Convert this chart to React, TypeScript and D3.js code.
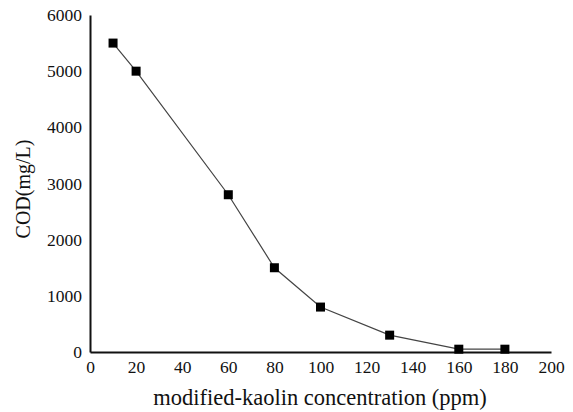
import { useEffect, useRef } from 'react';
import * as d3 from 'd3';

const dosage = [10, 20, 60, 80, 100, 130, 160, 180];
const cod = [5500, 5000, 2800, 1500, 800, 300, 50, 50];
const xTicks = [0, 20, 40, 60, 80, 100, 120, 140, 160, 180, 200];
const yTicks = [0, 1000, 2000, 3000, 4000, 5000, 6000];
const xTitle = 'modified-kaolin concentration (ppm)';
const yTitle = 'COD(mg/L)';

export default function App() {
    const ref = useRef<SVGSVGElement>(null);

    useEffect(() => {
        const svg = d3.select(ref.current);
        svg.selectAll('*').remove();

        const font = '"Liberation Serif", "Times New Roman", serif';

        const x = d3.scaleLinear().domain([0, 200]).range([90, 551]);
        const y = d3.scaleLinear().domain([0, 6000]).range([352, 15]);

        const xAxis = svg.append('g')
            .attr('transform', `translate(0,${y(0)})`)
            .call(d3.axisBottom(x).tickValues(xTicks).tickFormat(d3.format('d')).tickSize(0).tickPadding(9));
        const yAxis = svg.append('g')
            .attr('transform', `translate(${x(0)},0)`)
            .call(d3.axisLeft(y).tickValues(yTicks).tickFormat(d3.format('d')).tickSize(0).tickPadding(8));

        [xAxis, yAxis].forEach(g => {
            g.attr('font-family', font).attr('font-size', 17.5);
            g.select('.domain').attr('stroke', '#111').attr('stroke-width', 2);
            g.selectAll('text')
                .style('font-family', font)
                .style('font-size', '17.5px')
                .attr('fill', '#111');
        });

        const pts = dosage.map((d, i) => [d, cod[i]] as [number, number]);

        svg.append('path')
            .datum(pts)
            .attr('fill', 'none')
            .attr('stroke', '#444')
            .attr('stroke-width', 1.2)
            .attr('d', d3.line().x(d => x(d[0])).y(d => y(d[1])));

        svg.selectAll('rect.pt')
            .data(pts)
            .enter()
            .append('rect')
            .attr('class', 'pt')
            .attr('x', d => x(d[0]) - 4.5)
            .attr('y', d => y(d[1]) - 4.5)
            .attr('width', 9)
            .attr('height', 9)
            .attr('fill', '#000');

        svg.append('text')
            .attr('x', 320)
            .attr('y', 405)
            .attr('text-anchor', 'middle')
            .attr('font-family', font)
            .attr('font-size', 22.5)
            .attr('fill', '#111')
            .text(xTitle);

        svg.append('text')
            .attr('transform', 'translate(30,189) rotate(-90)')
            .attr('text-anchor', 'middle')
            .attr('font-family', font)
            .attr('font-size', 20)
            .attr('fill', '#111')
            .text(yTitle);
    }, []);

    return (
        <svg
            ref={ref}
            width={573}
            height={412}
            style={{ display: 'block', position: 'absolute', left: 0, top: 0, background: '#fff' }}
        />
    );
}
